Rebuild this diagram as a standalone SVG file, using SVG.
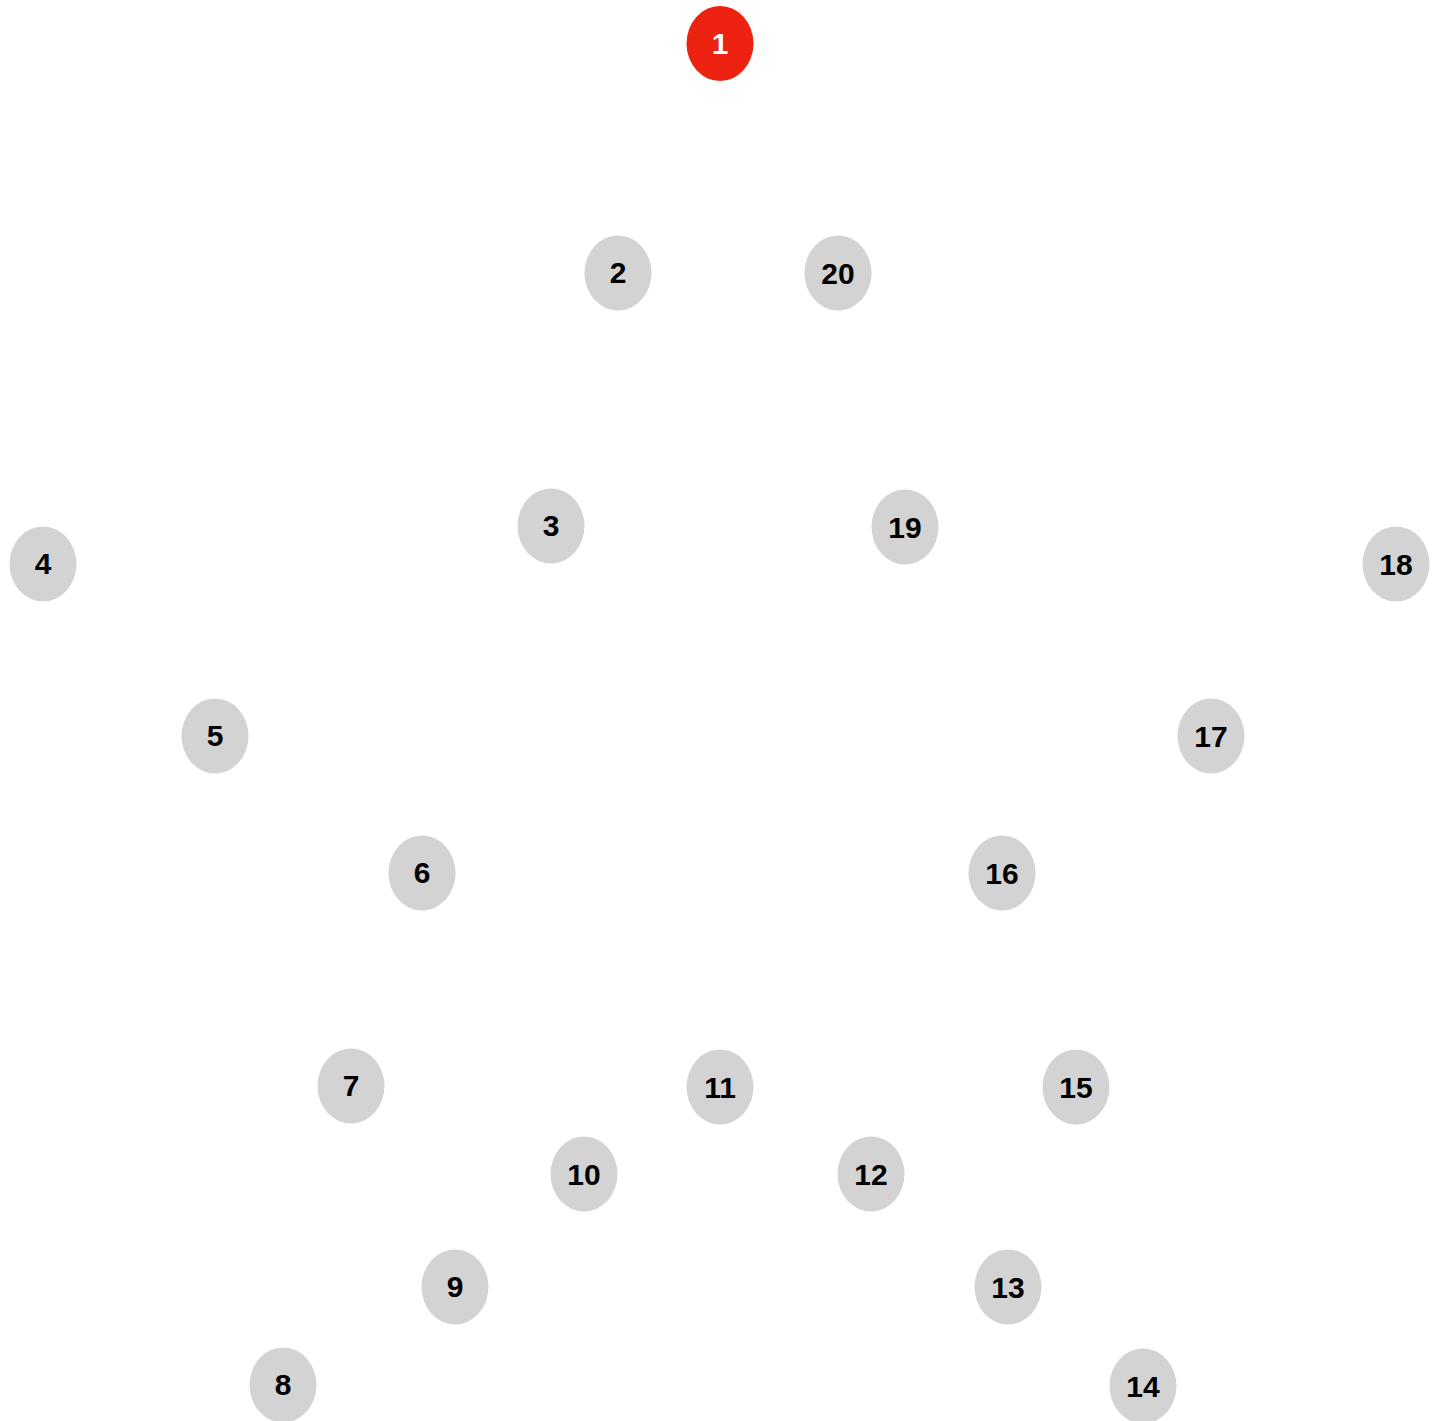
<svg xmlns="http://www.w3.org/2000/svg" width="1438" height="1421" viewBox="0 0 1438 1421">
<style>
.n ellipse{fill:#d3d3d3}
.n text{font-family:"Liberation Sans",Arial,sans-serif;font-weight:bold;font-size:30px;text-anchor:middle;fill:#000}
#n1 ellipse{fill:#ee2211}
#n1 text{fill:#fff}
</style>
<rect width="1438" height="1421" fill="#fff"/>
<g id="connectors"></g>
<g id="n1" class="n"><ellipse cx="720" cy="43.5" rx="33.5" ry="37.5"/><text x="720" y="53.5">1</text></g>
<g id="n2" class="n"><ellipse cx="618" cy="273" rx="33.5" ry="37.5"/><text x="618" y="283">2</text></g>
<g id="n20" class="n"><ellipse cx="838" cy="273" rx="33.5" ry="37.5"/><text x="838" y="284">20</text></g>
<g id="n3" class="n"><ellipse cx="551" cy="526" rx="33.5" ry="37.5"/><text x="551" y="536">3</text></g>
<g id="n19" class="n"><ellipse cx="905" cy="527" rx="33.5" ry="37.5"/><text x="905" y="537.5">19</text></g>
<g id="n4" class="n"><ellipse cx="43" cy="564" rx="33.5" ry="37.5"/><text x="43" y="574">4</text></g>
<g id="n18" class="n"><ellipse cx="1396" cy="564" rx="33.5" ry="37.5"/><text x="1396" y="575">18</text></g>
<g id="n5" class="n"><ellipse cx="215" cy="736" rx="33.5" ry="37.5"/><text x="215" y="746">5</text></g>
<g id="n17" class="n"><ellipse cx="1211" cy="736" rx="33.5" ry="37.5"/><text x="1211" y="747">17</text></g>
<g id="n6" class="n"><ellipse cx="422" cy="873" rx="33.5" ry="37.5"/><text x="422" y="883">6</text></g>
<g id="n16" class="n"><ellipse cx="1002" cy="873" rx="33.5" ry="37.5"/><text x="1002" y="884">16</text></g>
<g id="n7" class="n"><ellipse cx="351" cy="1086" rx="33.5" ry="37.5"/><text x="351" y="1096">7</text></g>
<g id="n11" class="n"><ellipse cx="720" cy="1087" rx="33.5" ry="37.5"/><text x="720" y="1097.5">11</text></g>
<g id="n15" class="n"><ellipse cx="1076" cy="1087" rx="33.5" ry="37.5"/><text x="1076" y="1097.5">15</text></g>
<g id="n10" class="n"><ellipse cx="584" cy="1174" rx="33.5" ry="37.5"/><text x="584" y="1185">10</text></g>
<g id="n12" class="n"><ellipse cx="871" cy="1174" rx="33.5" ry="37.5"/><text x="871" y="1185">12</text></g>
<g id="n9" class="n"><ellipse cx="455" cy="1287" rx="33.5" ry="37.5"/><text x="455" y="1297">9</text></g>
<g id="n13" class="n"><ellipse cx="1008" cy="1287" rx="33.5" ry="37.5"/><text x="1008" y="1298">13</text></g>
<g id="n8" class="n"><ellipse cx="283" cy="1385" rx="33.5" ry="37.5"/><text x="283" y="1395">8</text></g>
<g id="n14" class="n"><ellipse cx="1143" cy="1386" rx="33.5" ry="37.5"/><text x="1143" y="1397">14</text></g>
</svg>
